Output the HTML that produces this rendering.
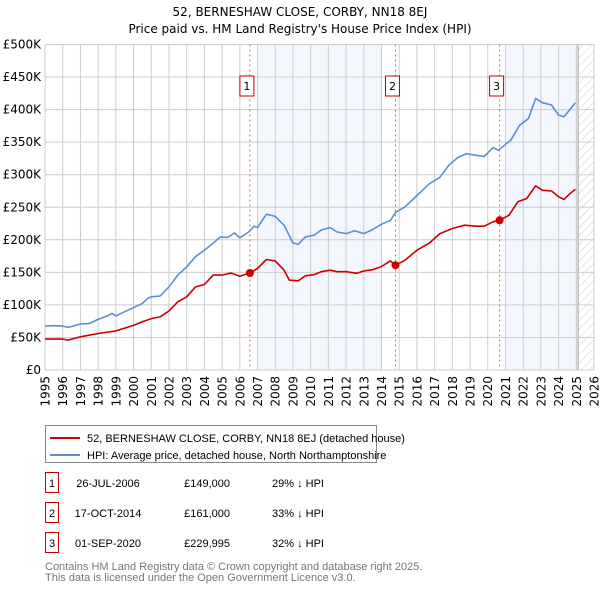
<!DOCTYPE html>
<html><head><meta charset="utf-8">
<style>
body{margin:0;background:#fff;width:600px;height:590px;overflow:hidden;font-family:"DejaVu Sans","Liberation Sans",sans-serif;}
svg text{font-family:"DejaVu Sans","Liberation Sans",sans-serif;}
svg text.lib{font-family:"Liberation Sans",sans-serif;}
</style></head>
<body>
<svg id="chart" width="600" height="590" viewBox="0 0 600 590">
<defs>
<pattern id="hatch" width="6" height="6" patternUnits="userSpaceOnUse" patternTransform="rotate(45)">
<line x1="0" y1="0" x2="0" y2="6" stroke="#ccc" stroke-width="1"/>
</pattern>
</defs>
<text x="300" y="16" text-anchor="middle" font-size="12" fill="#000">52, BERNESHAW CLOSE, CORBY, NN18 8EJ</text>
<text x="300" y="33" text-anchor="middle" font-size="12" fill="#000">Price paid vs. HM Land Registry's House Price Index (HPI)</text>
<g id="plot"></g>
<g>
<rect x="45.5" y="425.5" width="331" height="37" fill="#fff" stroke="#888"/>
<line x1="50" y1="438" x2="80" y2="438" stroke="#cc0000" stroke-width="2"/>
<text class="lib" x="87" y="442" font-size="11">52, BERNESHAW CLOSE, CORBY, NN18 8EJ (detached house)</text>
<line x1="50" y1="455" x2="80" y2="455" stroke="#5b8fd1" stroke-width="2"/>
<text class="lib" x="87" y="459" font-size="11">HPI: Average price, detached house, North Northamptonshire</text>
</g>
<g id="table" font-size="11"></g>
<text class="lib" x="45" y="570" font-size="11" fill="#777">Contains HM Land Registry data © Crown copyright and database right 2025.</text>
<text class="lib" x="45" y="581" font-size="11" fill="#777">This data is licensed under the Open Government Licence v3.0.</text>
</svg>
<script>
const hpiYears=[1995,1995.5,1996,1996.3,1997,1997.5,1998,1998.5,1998.8,1999,1999.5,2000,2000.5,2000.8,2001,2001.5,2002,2002.5,2003,2003.5,2004,2004.5,2004.9,2005.3,2005.7,2006,2006.5,2006.8,2007,2007.5,2008,2008.5,2009,2009.3,2009.7,2010.2,2010.6,2011.1,2011.5,2012,2012.5,2013,2013.5,2014,2014.5,2014.8,2015.3,2016,2016.7,2017.3,2017.8,2018.3,2018.8,2019.3,2019.8,2020.3,2020.6,2021,2021.3,2021.8,2022.3,2022.7,2023.1,2023.6,2024,2024.3,2024.7,2024.95];
const hpiValues=[67.5,68,67.5,65.5,70.5,71.5,77.8,82.9,87,82.9,89.6,95.7,102.4,110,112.5,113.6,127.8,145.7,158.5,174,184,195,204.5,203.5,210.6,203,212,220.9,218.8,239.3,236,222.4,195.3,193,204.5,207,215,218.8,212,209.6,213.8,209.6,215.7,224,229.6,242.4,250,268,286,296,314.5,326.3,332.4,330,328,341.6,337.5,346.7,353,376,386.4,417,410.5,407,391.6,389,402,410.5];
const priceYears=[1995,1996,1996.3,1997,1998,1999,2000,2000.5,2001,2001.5,2002,2002.5,2003,2003.5,2004,2004.5,2005,2005.5,2006,2006.57,2007,2007.5,2008,2008.5,2008.8,2009.3,2009.7,2010.2,2010.6,2011.1,2011.5,2012,2012.6,2013,2013.5,2014,2014.5,2014.79,2015.3,2016,2016.7,2017.3,2018,2018.7,2019.3,2019.8,2020.3,2020.67,2021.2,2021.7,2022.2,2022.7,2023.1,2023.6,2024,2024.3,2024.7,2024.95];
const priceValues=[47.5,47.5,46,51,56,60,68.5,74,79,81.6,90.8,104.7,112.4,127.7,131.3,145.7,145.7,149,144,149,155.9,169.7,167.6,153.3,138,137,144.6,146.6,151,153.3,151,151,148.6,152,154,159,167.6,161,168,184,195,209.6,217.3,222.4,220.9,220.9,227.7,230,237.8,258.3,263.4,282.9,276,275,266,262,272.3,277.5];
const saleYears=[2006.57,2014.79,2020.67];
const saleValues=[149,161,229.995];
const saleLabels=["1","2","3"];
const saleDates=["26-JUL-2006","17-OCT-2014","01-SEP-2020"];
const salePrices=["£149,000","£161,000","£229,995"];
const saleDiffs=["29% ↓ HPI","33% ↓ HPI","32% ↓ HPI"];
const yTicks=[0,50,100,150,200,250,300,350,400,450,500];
const yTickLabels=["£0","£50K","£100K","£150K","£200K","£250K","£300K","£350K","£400K","£450K","£500K"];
const xTicks=[1995,1996,1997,1998,1999,2000,2001,2002,2003,2004,2005,2006,2007,2008,2009,2010,2011,2012,2013,2014,2015,2016,2017,2018,2019,2020,2021,2022,2023,2024,2025,2026];
const shadeBands=[[2007,2014],[2021,2025.1]];

const X0=45,X1=594,Y0=370,Y1=44.5;
const x=v=>X0+(v-1995)/(2026-1995)*(X1-X0);
const y=v=>Y0-(v/500)*(Y0-Y1);
const NS="http://www.w3.org/2000/svg";
const plot=document.getElementById('plot');
function mk(tag,attrs,parent){const e=document.createElementNS(NS,tag);for(const k in attrs)e.setAttribute(k,attrs[k]);(parent||plot).appendChild(e);return e;}

shadeBands.forEach(b=>{
  const r=mk('rect',{x:x(b[0]),y:Y1,width:x(b[1])-x(b[0]),height:Y0-Y1,fill:'#eef3fc',opacity:0.7});
  
  
});
const hr=mk('rect',{x:x(2025.1),y:Y1,width:X1-x(2025.1),height:Y0-Y1,fill:'url(#hatch)'});


mk('line',{x1:x(2025.1),y1:Y1,x2:x(2025.1),y2:Y0,stroke:'#999','stroke-width':1});

yTicks.forEach((t,i)=>{
  mk('line',{x1:X0,x2:X1,y1:y(t),y2:y(t),stroke:'#cccccc','stroke-width':1});
  const tx=mk('text',{x:X0-4,y:y(t)+4,'text-anchor':'end','font-size':12,fill:'#000'});
  tx.textContent=yTickLabels[i];
  
  
});
xTicks.forEach(t=>{
  mk('line',{x1:x(t),x2:x(t),y1:Y1,y2:Y0,stroke:'#cccccc','stroke-width':1});
  const tx=mk('text',{x:0,y:0,'text-anchor':'end','font-size':12,fill:'#000',transform:`translate(${x(t)+4.5},${Y0+6}) rotate(-90)`});
  tx.textContent=t;
  
  
});
mk('rect',{x:X0,y:Y1,width:X1-X0,height:Y0-Y1,fill:'none',stroke:'#cccccc'});

saleYears.forEach((s,i)=>{
  const l=mk('line',{x1:x(s),x2:x(s),y1:Y1,y2:Y0,stroke:'#e06060','stroke-width':1,'stroke-dasharray':'2,3'});
  
  
  const g=mk('g',{});
  
  
  mk('rect',{x:x(s)-10,y:76,width:14,height:20,fill:'#fff',stroke:'#c00000'},g);
  const t=mk('text',{x:x(s)-3,y:90,'text-anchor':'middle','font-size':11},g);
  t.textContent=saleLabels[i];
});

function path(xs,vs,color,name){
  const d=xs.map((v,i)=>(i?'L':'M')+x(v).toFixed(1)+','+y(vs[i]).toFixed(1)).join('');
  const p=mk('path',{d:d,fill:'none',stroke:color,'stroke-width':1.6,'stroke-linejoin':'round'});
  
  
}
path(hpiYears,hpiValues,'#5b8fd1','hpi-line');
path(priceYears,priceValues,'#cc0000','price-paid-line');
saleYears.forEach((s,i)=>{
  const c=mk('circle',{cx:x(s),cy:y(saleValues[i]),r:4,fill:'#cc0000'});
  
  
});

const tb=document.getElementById('table');
saleLabels.forEach((lab,i)=>{
  const yy=483+i*30;
  const g=mk('g',{},tb);
  
  
  mk('rect',{x:45.5,y:yy-10.5,width:13,height:20,fill:'#fff',stroke:'#c00000'},g);
  const a=mk('text',{x:52,y:yy+4,'text-anchor':'middle',class:'lib'},g);a.textContent=lab;
  const b=mk('text',{x:108,y:yy+4,'text-anchor':'middle',class:'lib'},g);b.textContent=saleDates[i];
  const c=mk('text',{x:230,y:yy+4,'text-anchor':'end',class:'lib'},g);c.textContent=salePrices[i];
  const d=mk('text',{x:272,y:yy+4,class:'lib'},g);d.textContent=saleDiffs[i];
});
</script>
</body></html>
